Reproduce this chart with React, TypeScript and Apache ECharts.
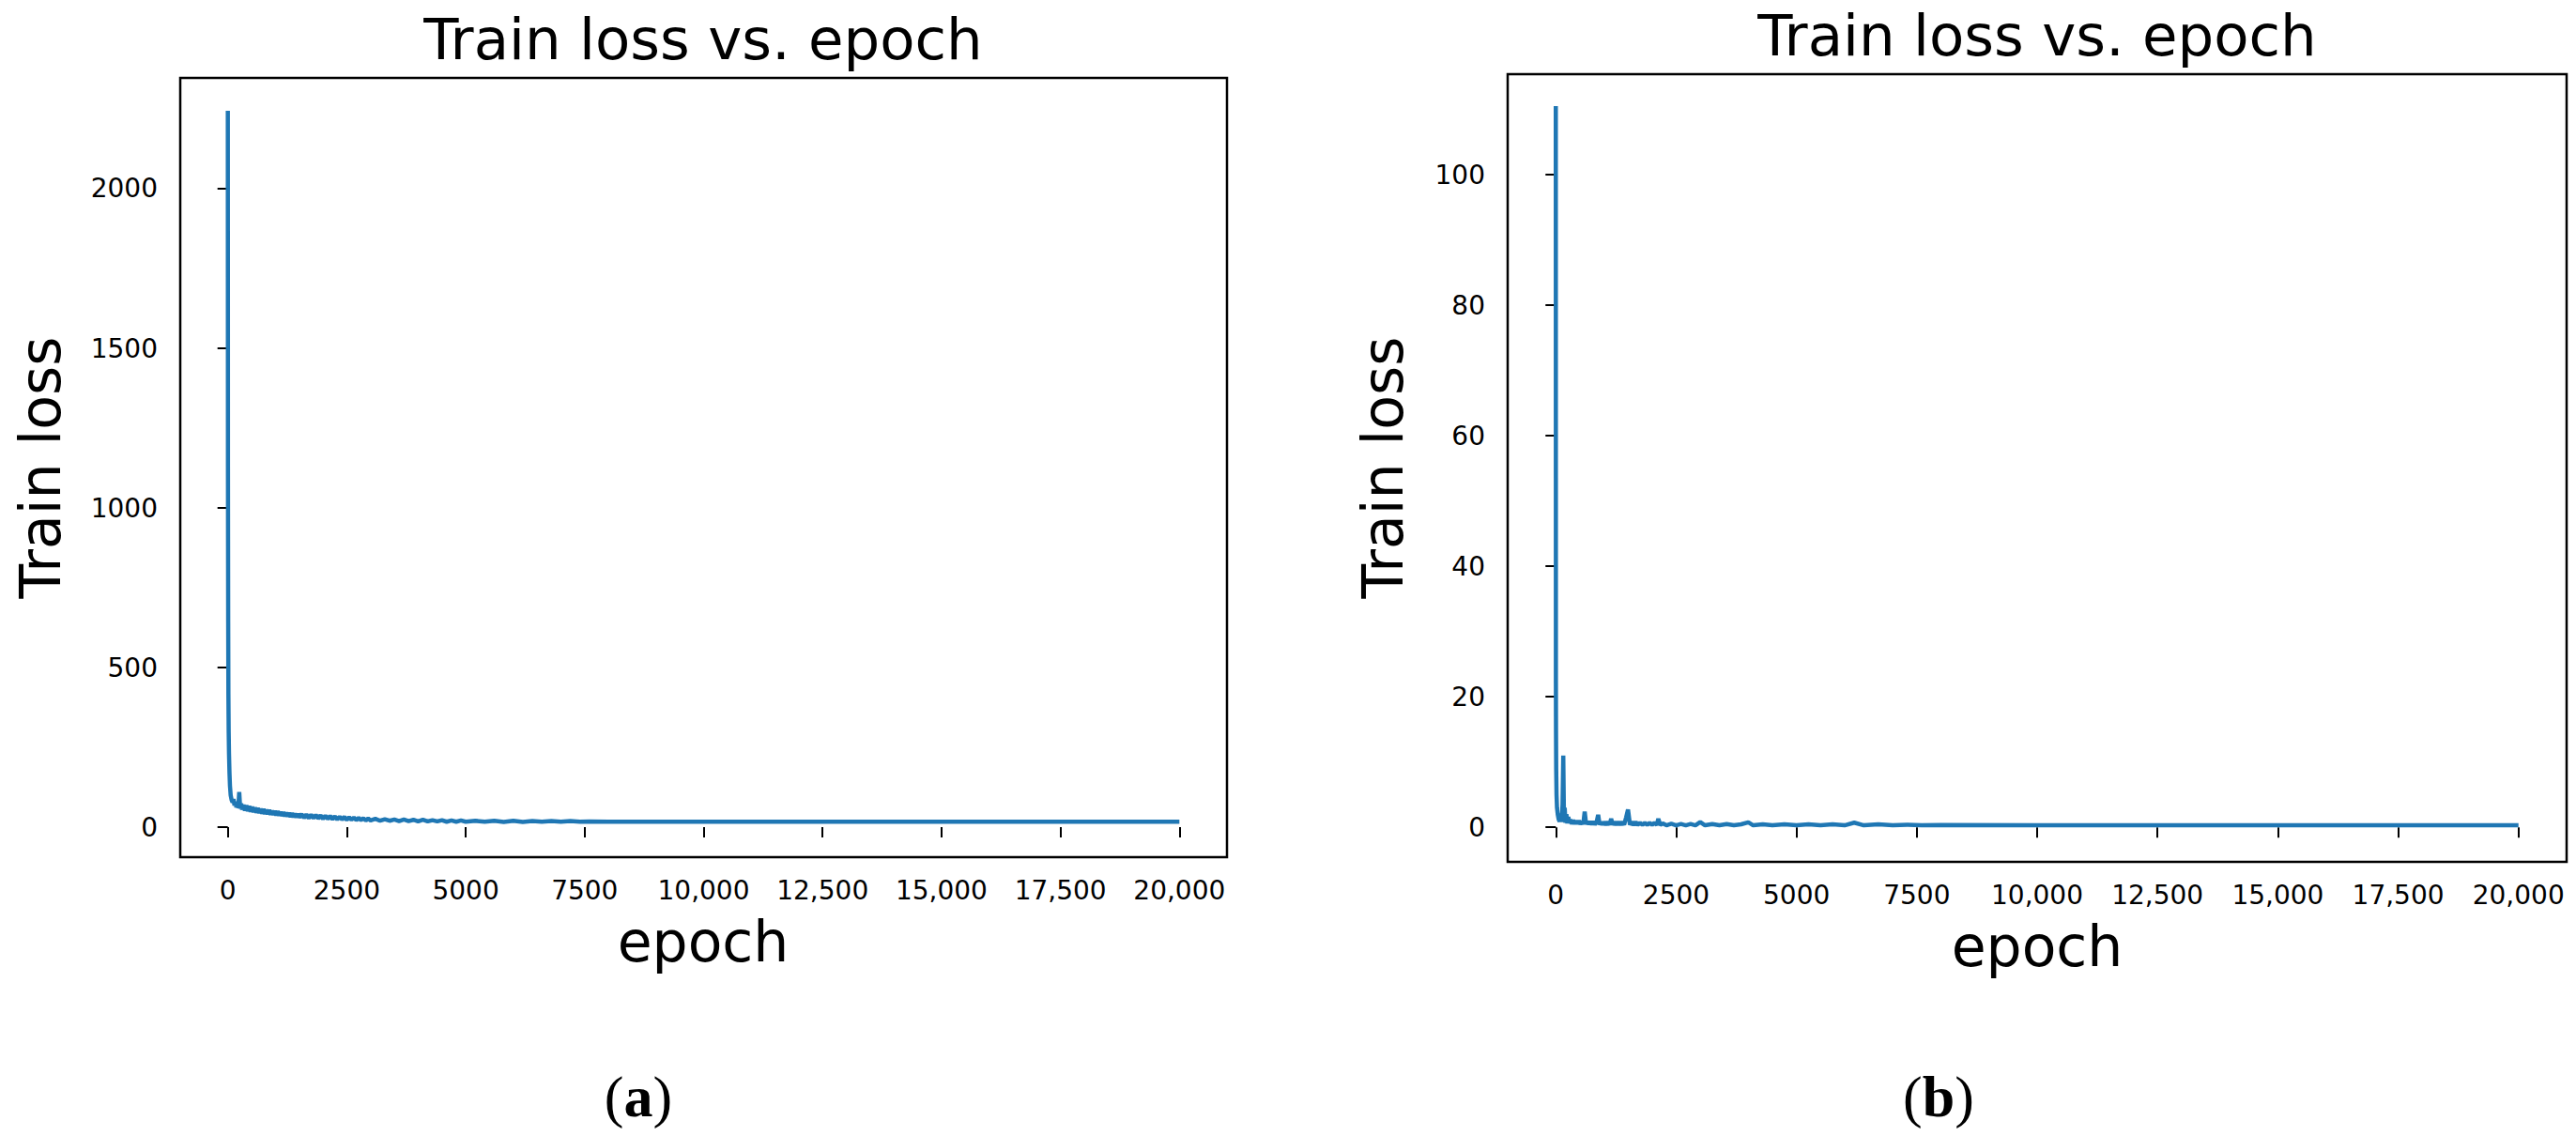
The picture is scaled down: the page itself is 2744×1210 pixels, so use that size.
import React, { useEffect, useRef } from "react";
import * as echarts from "echarts";

// ---- Data: [epoch, train loss] ----
const leftPoints: number[][] = [
  [0, 2244], [3, 1130], [5, 900], [8, 640], [12, 420], [18, 300], [25, 230], [35, 170], [45, 130], [60, 100],
  [80, 85], [100, 78], [120, 88], [140, 68], [160, 80], [180, 62], [200, 76], [220, 60], [240, 110], [260, 58],
  [280, 74], [300, 55], [330, 70], [360, 52], [390, 68], [420, 50], [450, 66], [480, 48], [510, 64], [540, 47],
  [570, 62], [600, 45], [630, 60], [660, 44], [690, 58], [720, 42], [750, 57], [780, 41], [810, 55], [840, 40],
  [870, 54], [900, 39], [930, 52], [960, 38], [990, 51], [1020, 37], [1050, 50], [1080, 36], [1110, 48], [1140, 35],
  [1170, 47], [1200, 34], [1230, 46], [1260, 33], [1290, 45], [1320, 32], [1350, 44], [1380, 31], [1410, 43], [1440, 30],
  [1470, 42], [1500, 30], [1550, 41], [1600, 29], [1650, 40], [1700, 28], [1750, 39], [1800, 28], [1850, 38], [1900, 27],
  [1950, 37], [2000, 26], [2050, 36], [2100, 26], [2150, 35], [2200, 25], [2250, 34], [2300, 24], [2350, 33], [2400, 24],
  [2450, 32], [2500, 23], [2550, 31], [2600, 23], [2650, 30], [2700, 22], [2750, 29], [2800, 22], [2850, 28], [2900, 21],
  [2950, 27], [3000, 21], [3100, 26], [3200, 20], [3300, 25], [3400, 20], [3500, 24], [3600, 19], [3700, 24], [3800, 19],
  [3900, 23], [4000, 18], [4100, 23], [4200, 18], [4300, 22], [4400, 18], [4500, 22], [4600, 17], [4700, 21], [4800, 17],
  [4900, 21], [5000, 17], [5200, 20], [5400, 17], [5600, 20], [5800, 16], [6000, 20], [6200, 16], [6400, 19], [6600, 17],
  [6800, 19], [7000, 17], [7200, 19], [7400, 17], [7600, 18], [8000, 17], [10000, 17], [12500, 17], [15000, 17], [17500, 17],
  [20000, 17],
];

const rightPoints: number[][] = [
  [0, 110.5], [2, 22], [4, 15], [8, 9], [15, 5], [25, 3], [40, 2], [60, 1.2], [80, 0.9], [100, 2.0],
  [120, 0.8], [140, 3.5], [155, 11.0], [170, 1.0], [185, 3.0], [200, 0.7], [220, 2.0], [240, 0.6], [260, 1.6], [280, 0.6],
  [300, 1.2], [330, 0.5], [360, 1.1], [390, 0.5], [420, 1.0], [450, 0.5], [480, 1.0], [510, 0.45], [540, 0.9], [570, 0.45],
  [600, 2.4], [630, 0.45], [660, 0.9], [690, 0.45], [720, 0.9], [750, 0.4], [780, 0.9], [810, 0.4], [850, 0.9], [880, 1.9],
  [910, 0.4], [940, 0.8], [970, 0.4], [1000, 0.8], [1040, 0.4], [1080, 0.8], [1120, 0.4], [1150, 1.3], [1180, 0.4], [1220, 0.8],
  [1260, 0.4], [1300, 0.8], [1340, 0.4], [1380, 0.8], [1420, 0.4], [1460, 1.5], [1500, 2.7], [1540, 0.4], [1580, 0.8], [1620, 0.35],
  [1660, 0.8], [1700, 0.35], [1750, 0.7], [1800, 0.35], [1850, 0.7], [1900, 0.35], [1950, 0.7], [2000, 0.35], [2050, 0.7], [2100, 0.35],
  [2130, 1.3], [2170, 0.35], [2220, 0.6], [2300, 0.3], [2400, 0.55], [2500, 0.3], [2600, 0.5], [2700, 0.3], [2800, 0.5], [2900, 0.3],
  [3000, 0.8], [3100, 0.3], [3250, 0.5], [3400, 0.3], [3550, 0.5], [3700, 0.3], [3850, 0.45], [4000, 0.75], [4100, 0.3], [4300, 0.45],
  [4500, 0.3], [4750, 0.45], [5000, 0.3], [5250, 0.45], [5500, 0.3], [5750, 0.45], [6000, 0.3], [6200, 0.7], [6400, 0.3], [6700, 0.45],
  [7000, 0.3], [7300, 0.4], [7600, 0.3], [8000, 0.35], [10000, 0.3], [12500, 0.3], [15000, 0.3], [17500, 0.3], [20000, 0.3],
];

const xTicks = [0, 2500, 5000, 7500, 10000, 12500, 15000, 17500, 20000];
const leftYTicks = [0, 500, 1000, 1500, 2000];
const rightYTicks = [0, 20, 40, 60, 80, 100];

const xRange = [-1000, 21000];
const leftYRange = [-94, 2347];
const rightYRange = [-5.3, 115.4];

const titleText = "Train loss vs. epoch";
const yLabelText = "Train loss";
const xLabelText = "epoch";
const captions = ["a", "b"];

const FONT = "DejaVu Sans";
const LINE_COLOR = "#1f77b4";

function fmtX(v: number): string {
  return v >= 10000 ? v.toLocaleString("en-US") : String(v);
}

function makeXAxis(gridIndex: number) {
  return {
    type: "value",
    gridIndex,
    min: xRange[0],
    max: xRange[1],
    axisLine: { show: false },
    splitLine: { show: false },
    axisTick: {
      show: true,
      inside: false,
      length: 11,
      lineStyle: { color: "#000", width: 2 },
      customValues: xTicks,
    },
    axisLabel: {
      show: true,
      margin: 21,
      color: "#000",
      fontFamily: FONT,
      fontSize: 28,
      customValues: xTicks,
      formatter: (v: number) => fmtX(v),
    },
  };
}

function makeYAxis(gridIndex: number, range: number[], ticks: number[]) {
  return {
    type: "value",
    gridIndex,
    min: range[0],
    max: range[1],
    axisLine: { show: false },
    splitLine: { show: false },
    axisTick: {
      show: true,
      inside: false,
      length: 11,
      lineStyle: { color: "#000", width: 2 },
      customValues: ticks,
    },
    axisLabel: {
      show: true,
      margin: 24,
      color: "#000",
      fontFamily: FONT,
      fontSize: 28,
      customValues: ticks,
      formatter: (v: number) => String(v),
    },
  };
}

function textEl(text: string, x: number, y: number, fontSize: number, rotation = 0) {
  return {
    type: "text",
    x,
    y,
    rotation,
    style: {
      text,
      fontFamily: FONT,
      fontSize,
      fill: "#000",
      textAlign: "center",
      textVerticalAlign: "middle",
    },
  };
}

function captionEl(letter: string, x: number, y: number) {
  return {
    type: "text",
    x,
    y,
    style: {
      text: "{p|(}{b|" + letter + "}{p|)}",
      textAlign: "center",
      textVerticalAlign: "middle",
      rich: {
        p: { fontFamily: "Liberation Serif", fontSize: 62, fill: "#000" },
        b: { fontFamily: "Liberation Serif", fontSize: 62, fontWeight: "bold", fill: "#000" },
      },
    },
  };
}

function lineSeries(idx: number, points: number[][]) {
  return {
    type: "line",
    xAxisIndex: idx,
    yAxisIndex: idx,
    data: points,
    showSymbol: false,
    lineStyle: { color: LINE_COLOR, width: 4.5 },
    itemStyle: { color: LINE_COLOR },
  };
}

export default function App() {
  const ref = useRef<HTMLDivElement>(null);

  useEffect(() => {
    if (!ref.current) return;
    const chart = echarts.init(ref.current, null, { renderer: "svg" });
    chart.setOption({
      animation: false,
      backgroundColor: "#fff",
      grid: [
        { left: 192, top: 83, width: 1115, height: 830, show: true, borderColor: "#000", borderWidth: 2.5, backgroundColor: "transparent" },
        { left: 1606, top: 79, width: 1128, height: 839, show: true, borderColor: "#000", borderWidth: 2.5, backgroundColor: "transparent" },
      ],
      xAxis: [makeXAxis(0), makeXAxis(1)],
      yAxis: [makeYAxis(0, leftYRange, leftYTicks), makeYAxis(1, rightYRange, rightYTicks)],
      series: [lineSeries(0, leftPoints), lineSeries(1, rightPoints)],
      graphic: [
        textEl(titleText, 749, 41, 61),
        textEl(titleText, 2170, 37, 61),
        textEl(yLabelText, 43, 498, 60, Math.PI / 2),
        textEl(yLabelText, 1473, 498, 60, Math.PI / 2),
        textEl(xLabelText, 749, 1003, 60),
        textEl(xLabelText, 2170, 1008, 60),
        captionEl(captions[0], 680, 1168),
        captionEl(captions[1], 2065, 1168),
      ],
    });
    return () => chart.dispose();
  }, []);

  return (
    <div
      ref={ref}
      style={{ position: "absolute", left: 0, top: 0, width: 2744, height: 1210, background: "#fff" }}
    />
  );
}
